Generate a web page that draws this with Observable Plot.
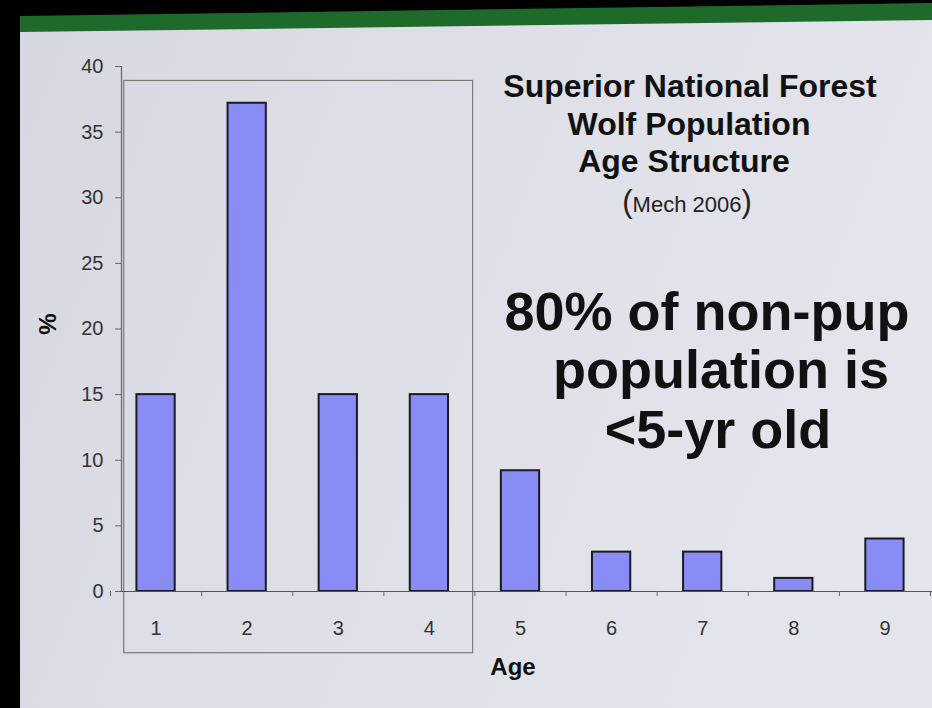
<!DOCTYPE html>
<html>
<head>
<meta charset="utf-8">
<script src="https://cdn.jsdelivr.net/npm/d3@7"></script>
<script src="https://cdn.jsdelivr.net/npm/@observablehq/plot@0.6"></script>
<style>
  html, body { margin: 0; padding: 0; width: 932px; height: 708px; overflow: hidden; background: #000; }
  #bg { position: absolute; left: 0; top: 0; width: 932px; height: 708px; }
  #chart { position: absolute; left: 0; top: 0; }
  .t { position: absolute; font-family: "Liberation Sans", Arial, sans-serif; font-weight: bold; color: #111; white-space: nowrap; line-height: 1; transform: translateX(-50%); }
  #chart svg text { font-size: 20px; }
</style>
</head>
<body>
<svg id="bg" width="932" height="708">
  <defs>
    <linearGradient id="g" x1="0" y1="0" x2="1" y2="0.3">
      <stop offset="0" stop-color="#d6d7e0"/>
      <stop offset="0.6" stop-color="#dfe0e8"/>
      <stop offset="1" stop-color="#e4e5ec"/>
    </linearGradient>
  </defs>
  <polygon points="20,31 932,19 932,708 20,708" fill="url(#g)"/>
  <polygon points="20,16 932,3 932,20 20,32" fill="#1d6a2b"/>
</svg>
<div id="chart"></div>

<div class="t" style="left:690px; top:70px; font-size:32px;">Superior National Forest</div>
<div class="t" style="left:689px; top:108px; font-size:32px;">Wolf Population</div>
<div class="t" style="left:684px; top:145px; font-size:32px;">Age Structure</div>
<div class="t" style="left:687px; top:186px; font-size:22px; font-weight:normal; color:#222;"><span style="font-size:31px;">(</span>Mech 2006<span style="font-size:31px;">)</span></div>

<div class="t" style="left:707px; top:284px; font-size:54px;">80% of non-pup</div>
<div class="t" style="left:721px; top:342px; font-size:54px;">population is</div>
<div class="t" style="left:718px; top:402px; font-size:54px;">&lt;5-yr old</div>

<div class="t" style="left:513px; top:655px; font-size:24px;">Age</div>
<div class="t" style="left:48px; top:312px; font-size:24px; transform: translateX(-50%) rotate(-90deg);">%</div>

<script>
const ages = [1, 2, 3, 4, 5, 6, 7, 8, 9];
const percents = [15, 37.2, 15, 15, 9.2, 3, 3, 1, 4];
const yTicks = [0, 5, 10, 15, 20, 25, 30, 35, 40];
const highlightAges = [1, 4];

const data = ages.map((a, i) => ({age: a, pct: percents[i]}));
const boundaries = ages.map(a => a - 0.5).concat([ages[ages.length - 1] + 0.5]);
const halfBar = 0.21;
const box = [{x1: highlightAges[0] - 0.35, x2: highlightAges[1] + 0.48, y1: -4.7, y2: 38.9}];

const plot = Plot.plot({
  width: 932,
  height: 708,
  marginLeft: 121,
  marginRight: 0,
  marginTop: 66,
  marginBottom: 117,
  style: {background: "transparent", fontFamily: "'Liberation Sans', Arial, sans-serif", fontSize: "20px", color: "#333", overflow: "visible"},
  x: {type: "linear", domain: [0.5, 9.5], range: [110, 930]},
  y: {domain: [0, 40]},
  marks: [
    Plot.rect(box, {x1: "x1", x2: "x2", y1: "y1", y2: "y2", fill: "none", stroke: "#7a7a7a", strokeWidth: 1.2, clip: false}),
    Plot.rectY(data, {x1: d => d.age - halfBar, x2: d => d.age + halfBar, y1: 0, y2: "pct", fill: "#8a8cf5", stroke: "#1a1a22", strokeWidth: 2}),
    Plot.frame({anchor: "left", stroke: "#666", strokeWidth: 1.2}),
    Plot.ruleY([0], {stroke: "#555", strokeWidth: 1.2}),
    Plot.axisY({ticks: yTicks, tickSize: 6, tickPadding: 12, fontSize: 20, stroke: "#666", fill: "#333", label: null}),
    Plot.axisX({ticks: boundaries, tickSize: 5, tickFormat: () => "", stroke: "#666", label: null}),
    Plot.axisX({ticks: ages, tickSize: 0, tickPadding: 29, fontSize: 20, fill: "#333", label: null, tickFormat: d => String(d)})
  ]
});
document.getElementById("chart").appendChild(plot);
</script>
</body>
</html>
